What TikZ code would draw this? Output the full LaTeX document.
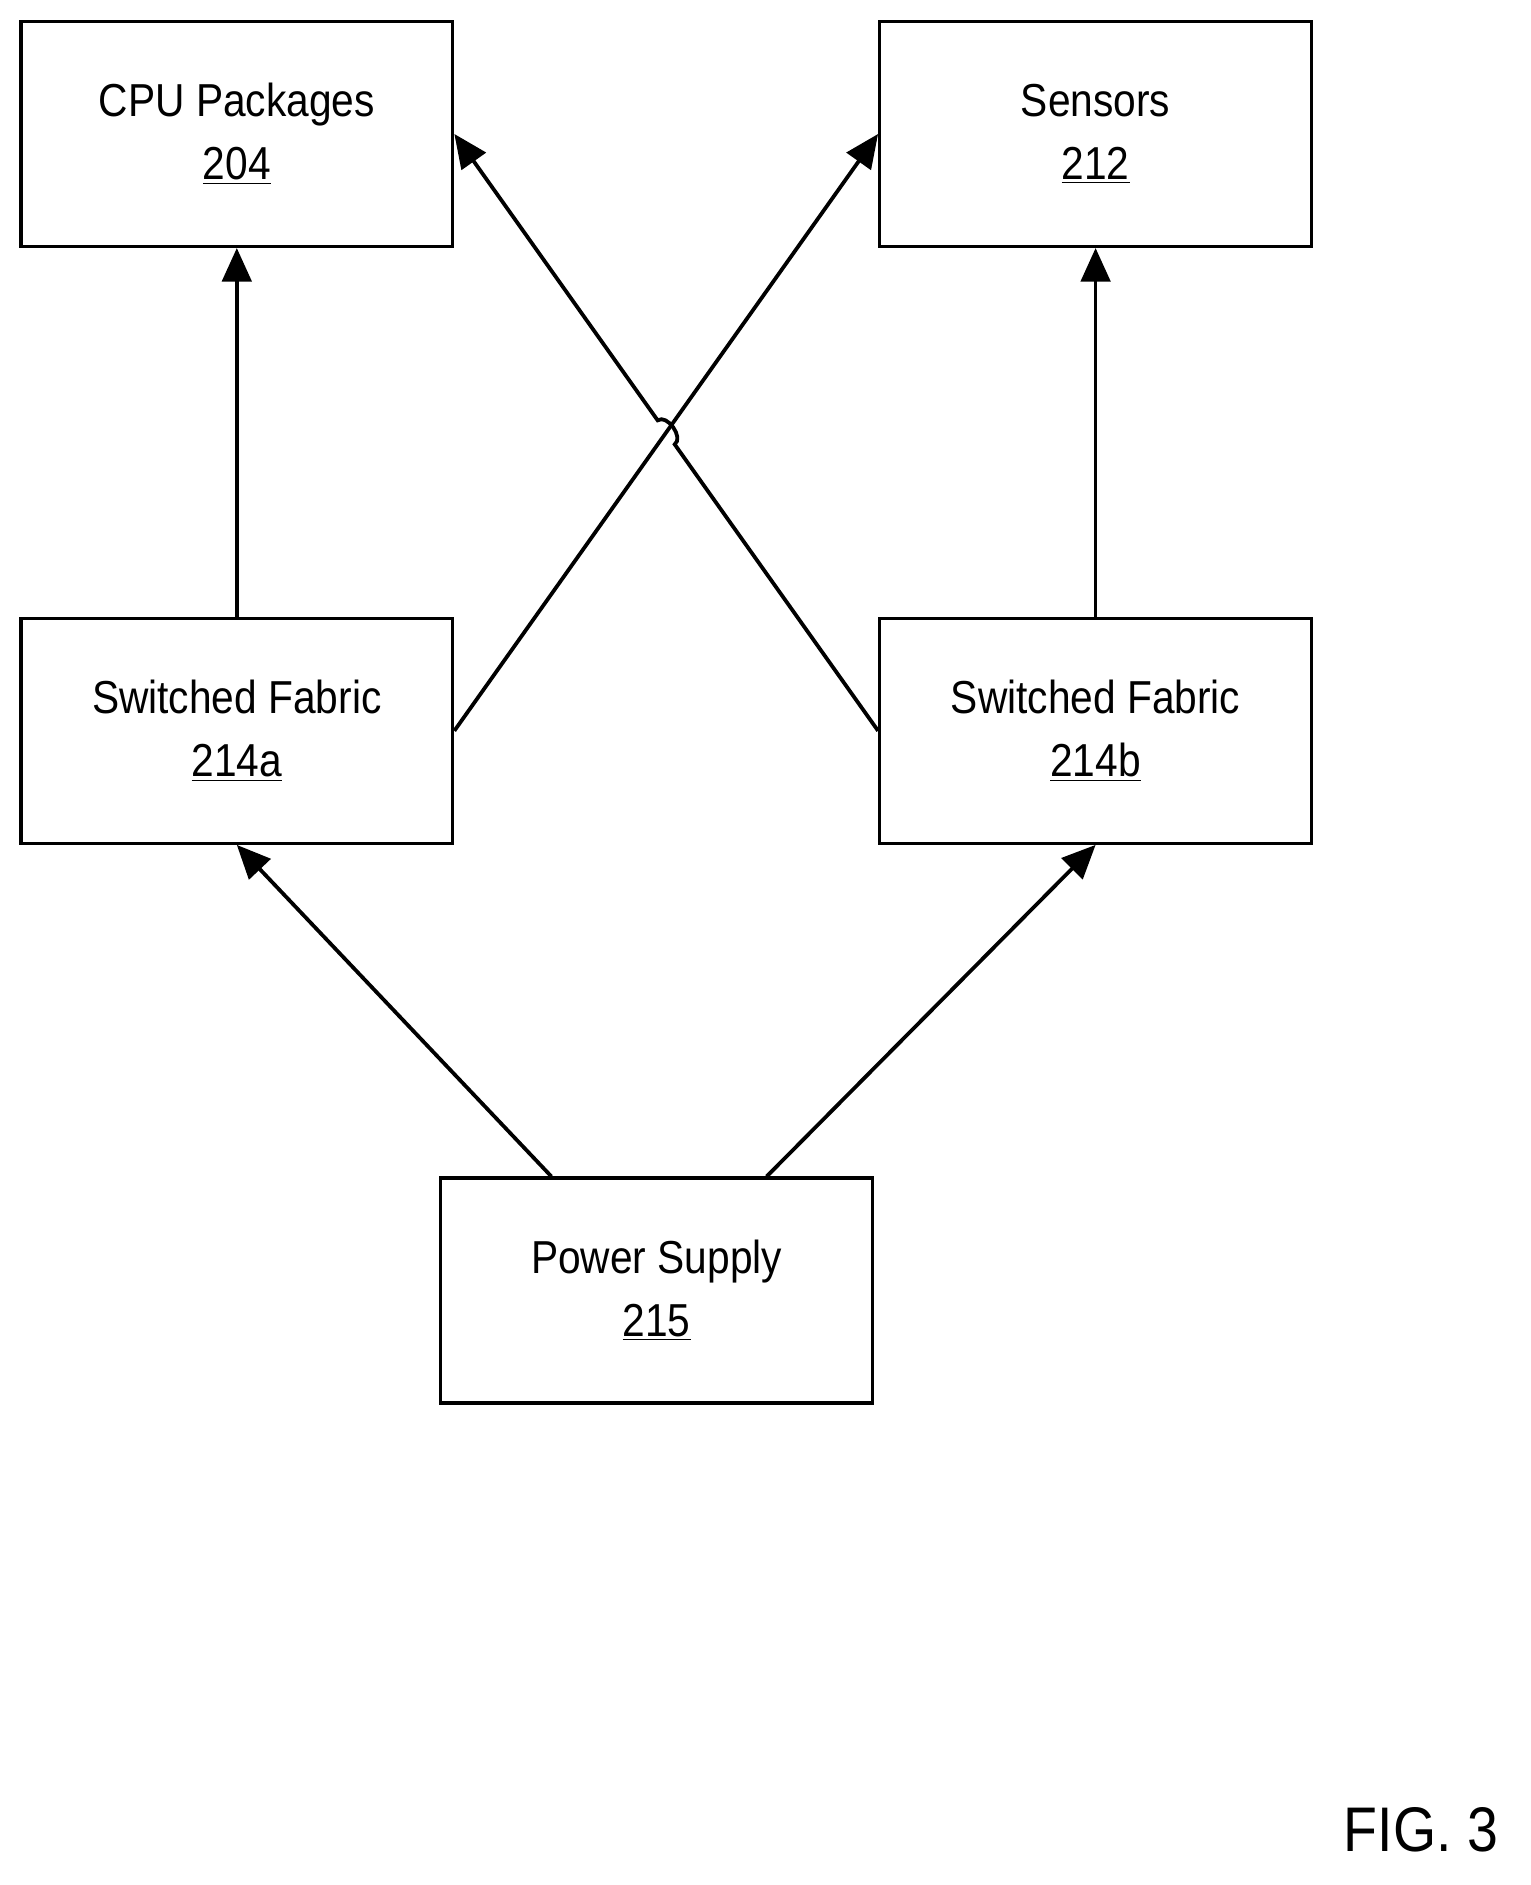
\documentclass[tikz,border=0pt]{standalone}
\usepackage{fontspec}
\setmainfont{Liberation Sans}[FakeStretch=0.88]
\usetikzlibrary{arrows.meta, positioning, calc}
\tikzset{
  block/.style={rectangle, draw=black, line width=1.6pt, minimum width=7.22cm, minimum height=3.76cm, align=center, font=\fontsize{22}{30}\selectfont},
  arrow/.style={line width=1.8pt, -{Triangle[length=16pt, width=14pt]}}
}
\begin{document}
\begin{tikzpicture}[x=0.02cm, y=-0.02cm]
        \useasboundingbox (0,0) rectangle (1280,1576);
        % Nodes
        \node (cpu) [block] at (198,112) {CPU Packages\\\underline{204}};
        \node (sensors) [block] at (916,112) {Sensors\\\underline{212}};
        \node (sfa) [block] at (198,611) {Switched Fabric\\\underline{214a}};
        \node (sfb) [block] at (916,611) {Switched Fabric\\\underline{214b}};
        \node (power) [block] at (549,1079) {Power Supply\\\underline{215}};
        \node (fig) [font=\fontsize{30}{36}\selectfont] at (1188,1530) {FIG. 3};

        % Paths
        \draw [arrow] (sfa.north) -- (cpu.south);
        \draw [arrow] (sfb.north) -- (sensors.south);
        \draw [arrow] (sfa.east) -- (sensors.west);
        \coordinate (cross) at (intersection of sfa.east--sensors.west and sfb.west--cpu.east);
        \draw [arrow] (sfb.west) -- ($(cross)!7pt!(sfb.west)$) to[bend right=90] ($(cross)!7pt!(cpu.east)$) -- (cpu.east);
        \draw [arrow] ($(power.north)+(-88,0)$) -- (sfa.south);
        \draw [arrow] ($(power.north)+(92,0)$) -- (sfb.south);
\end{tikzpicture}
\end{document}
